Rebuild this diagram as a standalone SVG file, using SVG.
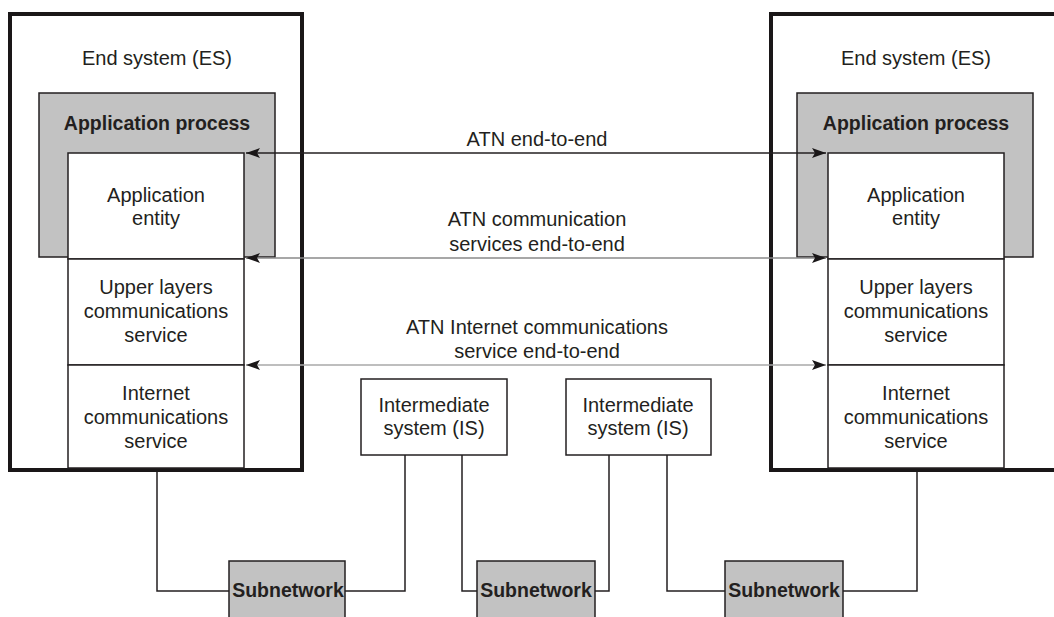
<svg xmlns="http://www.w3.org/2000/svg" width="1054" height="617" viewBox="0 0 1054 617">
<style>
  text { font-family: "Liberation Sans", Arial, sans-serif; font-size: 20px; fill: #231f20; text-anchor: middle; }
  .b { font-weight: bold; font-size: 19.5px; }
  .es { fill: none; stroke: #1a1718; stroke-width: 4; }
  .proc { fill: #c2c2c2; stroke: #231f20; stroke-width: 1.5; }
  .box { fill: #ffffff; stroke: #231f20; stroke-width: 1.5; }
  .sub { fill: #c2c2c2; stroke: #231f20; stroke-width: 1.5; }
  .wire { fill: none; stroke: #231f20; stroke-width: 1.5; }
  .a1 { stroke: #231f20; stroke-width: 1.5; }
  .a2 { stroke: #8a8a8a; stroke-width: 1.5; }
  .a3 { stroke: #a8a8a8; stroke-width: 1.5; }
</style>
<defs>
  <marker id="ah" viewBox="0 0 14 10" refX="14" refY="5" markerWidth="14" markerHeight="10" markerUnits="userSpaceOnUse" orient="auto-start-reverse">
    <path d="M0,0 L14,5 L0,10 L3,5 z" fill="#1a1718"/>
  </marker>
</defs>
<rect width="1054" height="617" fill="#ffffff"/>

<g id="es-left">
  <rect class="es" x="10" y="14" width="292" height="456"/>
  <text x="157" y="65">End system (ES)</text>
</g>
<g id="ap-left">
  <rect class="proc" x="39" y="93" width="236" height="164"/>
  <text class="b" x="157" y="130">Application process</text>
</g>
<g id="ae-left">
  <rect class="box" x="68" y="153" width="176" height="106"/>
  <text x="156" y="202">Application<tspan x="156" dy="23">entity</tspan></text>
</g>
<g id="ul-left">
  <rect class="box" x="68" y="259" width="176" height="106"/>
  <text x="156" y="294">Upper layers<tspan x="156" dy="24">communications</tspan><tspan x="156" dy="24">service</tspan></text>
</g>
<g id="ic-left">
  <rect class="box" x="68" y="365" width="176" height="103"/>
  <text x="156" y="400">Internet<tspan x="156" dy="24">communications</tspan><tspan x="156" dy="24">service</tspan></text>
</g>

<g id="es-right">
  <rect class="es" x="771" y="14" width="300" height="456"/>
  <text x="916" y="65">End system (ES)</text>
</g>
<g id="ap-right">
  <rect class="proc" x="797" y="93" width="236" height="164"/>
  <text class="b" x="916" y="130">Application process</text>
</g>
<g id="ae-right">
  <rect class="box" x="828" y="153" width="176" height="106"/>
  <text x="916" y="202">Application<tspan x="916" dy="23">entity</tspan></text>
</g>
<g id="ul-right">
  <rect class="box" x="828" y="259" width="176" height="106"/>
  <text x="916" y="294">Upper layers<tspan x="916" dy="24">communications</tspan><tspan x="916" dy="24">service</tspan></text>
</g>
<g id="ic-right">
  <rect class="box" x="828" y="365" width="176" height="103"/>
  <text x="916" y="400">Internet<tspan x="916" dy="24">communications</tspan><tspan x="916" dy="24">service</tspan></text>
</g>

<g id="is-1">
  <rect class="box" x="361" y="379" width="146" height="76"/>
  <text x="434" y="412">Intermediate<tspan x="434" dy="23">system (IS)</tspan></text>
</g>
<g id="is-2">
  <rect class="box" x="566" y="379" width="145" height="76"/>
  <text x="638" y="412">Intermediate<tspan x="638" dy="23">system (IS)</tspan></text>
</g>

<g id="sn-1">
  <rect class="sub" x="229" y="561" width="116" height="70"/>
  <text class="b" x="288" y="597">Subnetwork</text>
</g>
<g id="sn-2">
  <rect class="sub" x="477" y="561" width="118" height="70"/>
  <text class="b" x="536" y="597">Subnetwork</text>
</g>
<g id="sn-3">
  <rect class="sub" x="725" y="561" width="118" height="70"/>
  <text class="b" x="784" y="597">Subnetwork</text>
</g>

<g id="connectors">
  <line class="a1" x1="246" y1="153" x2="826" y2="153" marker-start="url(#ah)" marker-end="url(#ah)"/>
  <line class="a2" x1="246" y1="258" x2="826" y2="258" marker-start="url(#ah)" marker-end="url(#ah)"/>
  <line class="a3" x1="246" y1="365" x2="826" y2="365" marker-start="url(#ah)" marker-end="url(#ah)"/>
  <text x="537" y="146">ATN end-to-end</text>
  <text x="537" y="226">ATN communication<tspan x="537" dy="25">services end-to-end</tspan></text>
  <text x="537" y="334">ATN Internet communications<tspan x="537" dy="24">service end-to-end</tspan></text>
  <polyline class="wire" points="157,472 157,591 229,591"/>
  <polyline class="wire" points="345,591 405,591 405,455"/>
  <polyline class="wire" points="462,455 462,591 477,591"/>
  <polyline class="wire" points="595,591 609,591 609,455"/>
  <polyline class="wire" points="667,455 667,591 725,591"/>
  <polyline class="wire" points="843,591 917,591 917,472"/>
</g>
</svg>
